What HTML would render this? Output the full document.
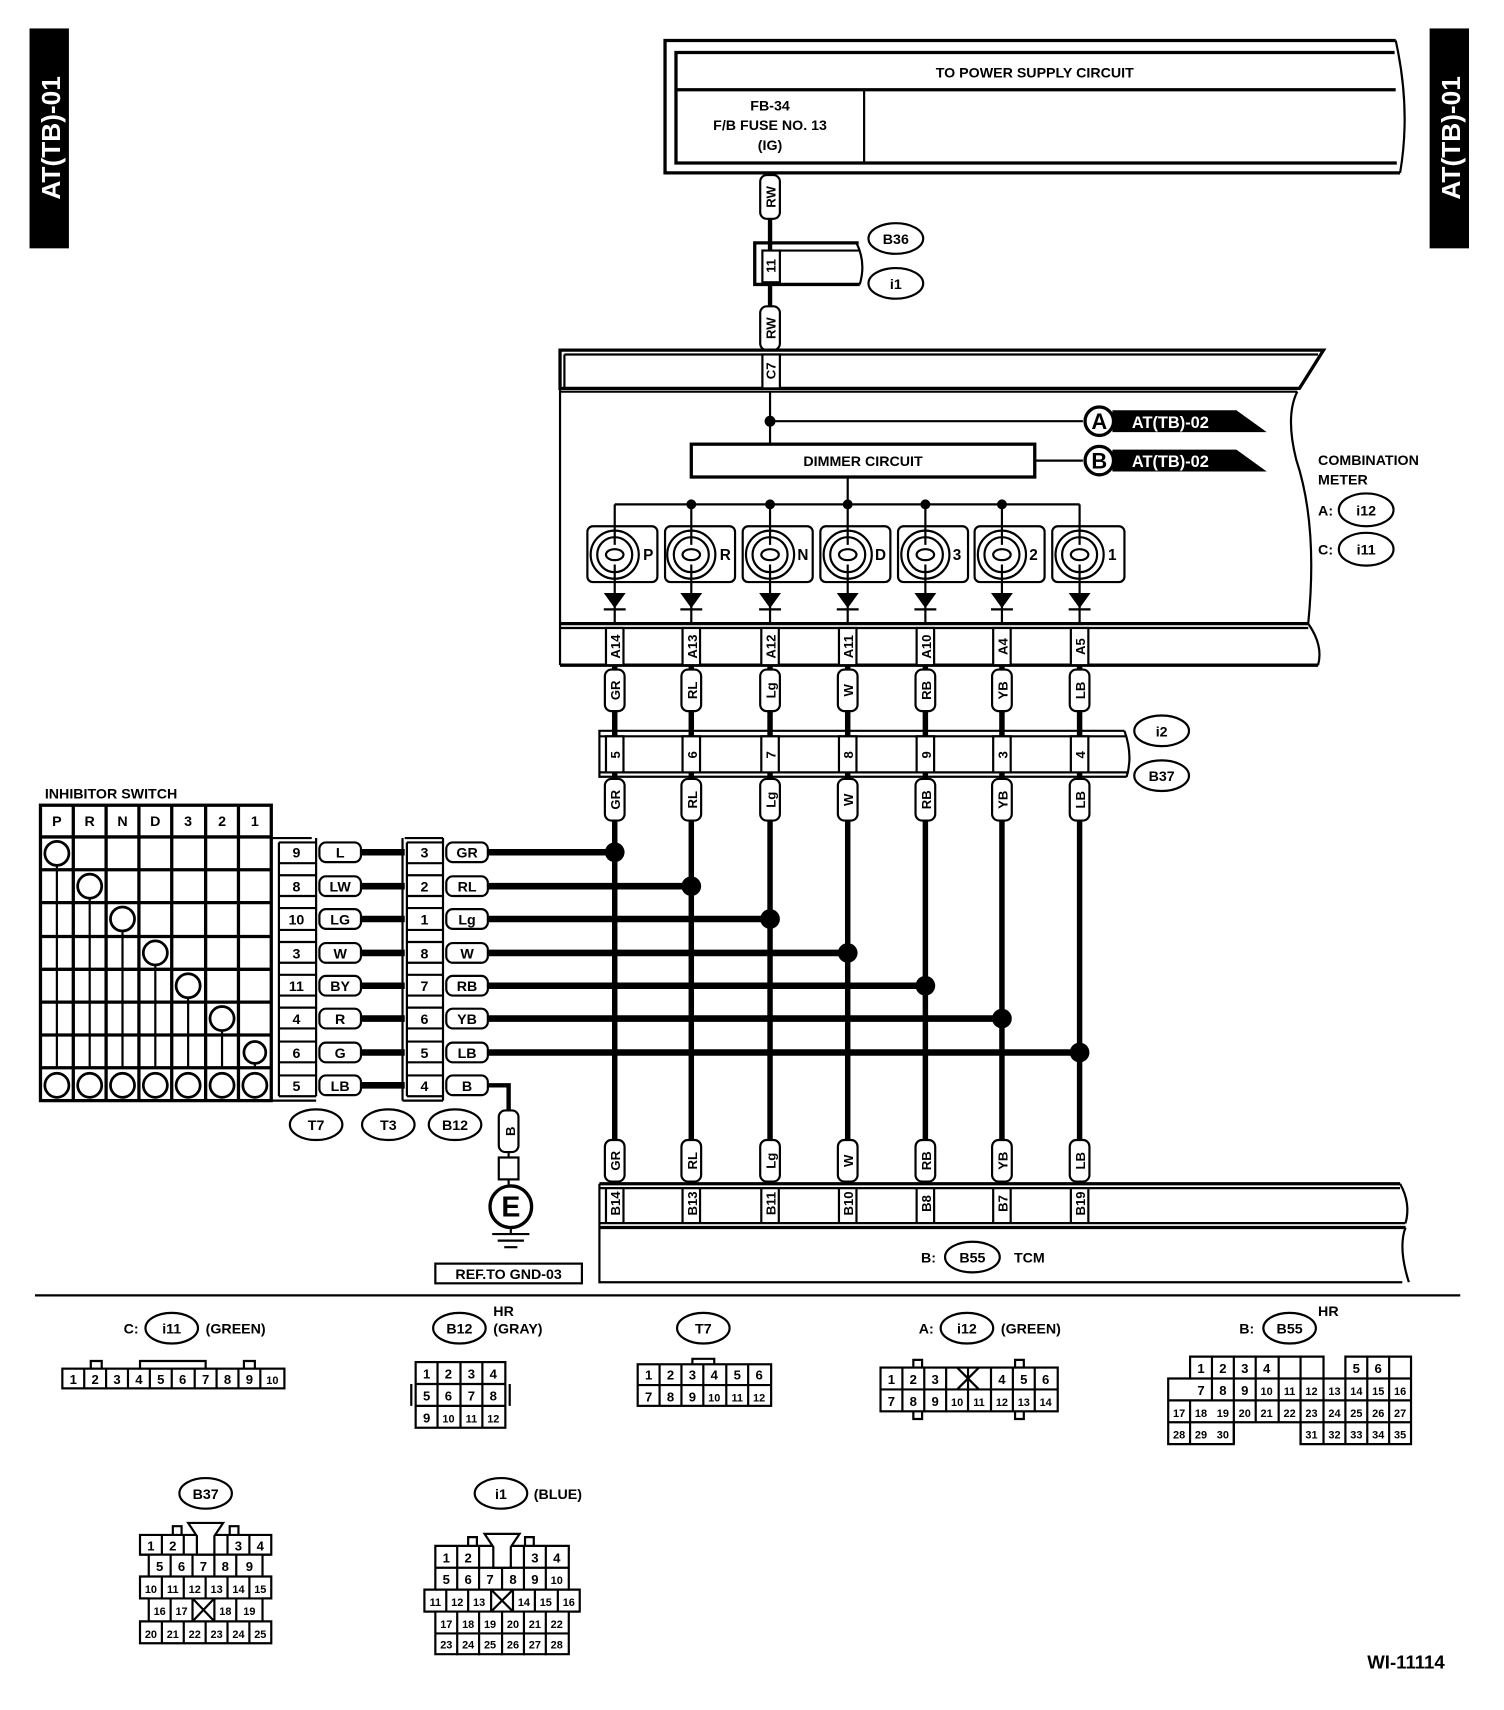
<!DOCTYPE html>
<html><head><meta charset="utf-8"><style>
html,body{margin:0;padding:0;background:#fff;}
svg{display:block}
text{font-family:"Liberation Sans",sans-serif;font-weight:bold;fill:#000}
</style></head><body>
<svg width="1504" height="1710" viewBox="0 0 1375 1563" preserveAspectRatio="none" xmlns="http://www.w3.org/2000/svg">
<g fill="none" stroke="#000" stroke-width="2">
<rect x="28" y="27" width="34" height="199" fill="#000"/>
<rect x="1308" y="27" width="34" height="199" fill="#000"/>
</g>
<text transform="translate(55,126) rotate(-90)" font-size="24" text-anchor="middle" style="fill:#fff">AT(TB)-01</text>
<text transform="translate(1335,126) rotate(-90)" font-size="24" text-anchor="middle" style="fill:#fff">AT(TB)-01</text>

<g fill="none" stroke="#000" stroke-width="2">
<path d="M1276 37 H608 V158 H1280" stroke-width="3"/>
<path d="M1276 37 Q1290 100 1280 158" />
<path d="M1275 48 H618 V149 H1277" stroke-width="3"/>
<line x1="618" y1="82" x2="1276" y2="82" stroke-width="3"/>
<line x1="790" y1="82" x2="790" y2="149"/>
<line x1="704" y1="158" x2="704" y2="320" stroke-width="4"/>
<rect x="695" y="160" width="18" height="40" rx="6" fill="#fff"/>
<rect x="695" y="280" width="18" height="40" rx="6" fill="#fff"/>
<path d="M785 222 H690 V260 H786" stroke-width="3"/>
<rect x="697" y="229" width="16" height="29" fill="#fff"/>
<path d="M785 229 H713"/>
<path d="M783 222 Q792 240 786 260"/>
<ellipse cx="819" cy="218" rx="25" ry="14" stroke-width="2"/>
<ellipse cx="819" cy="259" rx="25" ry="14" stroke-width="2"/>

<path d="M512 320 H1210 L1188 355 H512 Z" stroke-width="3"/>
<line x1="516" y1="324" x2="1205" y2="324"/>
<path d="M516 324 V354"/>
<line x1="512" y1="358" x2="1186" y2="358" stroke-width="2"/>
<path d="M512 320 V608"/>
<rect x="697" y="324" width="16" height="31" fill="#fff"/>
<path d="M1186 358 Q1175 380 1185 420 Q1205 480 1196 570"/>
<line x1="512" y1="570" x2="1196" y2="570" stroke-width="3"/>
<line x1="512" y1="574" x2="1196" y2="574"/>
<line x1="512" y1="608" x2="1205" y2="608" stroke-width="3"/>
<path d="M1196 570 Q1210 590 1205 608"/>
<line x1="704" y1="358" x2="704" y2="406"/>
<line x1="704" y1="385" x2="990" y2="385"/>
<circle cx="704" cy="385" r="4" fill="#000"/>
<rect x="632" y="406" width="314" height="30" stroke-width="3"/>
<line x1="946" y1="421" x2="990" y2="421"/>
<circle cx="1005" cy="385" r="13" fill="#fff" stroke-width="3"/>
<circle cx="1005" cy="421" r="13" fill="#fff" stroke-width="3"/>
<path d="M1018 376 H1130 L1155 394 H1018 Z" fill="#000"/>
<path d="M1018 412 H1130 L1155 430 H1018 Z" fill="#000"/>
<line x1="775" y1="436" x2="775" y2="461"/>
<line x1="562" y1="461" x2="987" y2="461"/>
</g>
<text x="946" y="71" font-size="13" text-anchor="middle" font-weight="normal">TO POWER SUPPLY CIRCUIT</text>
<text x="704" y="101" font-size="13" text-anchor="middle">FB-34</text>
<text x="704" y="119" font-size="13" text-anchor="middle">F/B FUSE NO. 13</text>
<text x="704" y="137" font-size="13" text-anchor="middle">(IG)</text>
<text transform="translate(709,180) rotate(-90)" font-size="12" text-anchor="middle">RW</text>
<text transform="translate(709,300) rotate(-90)" font-size="12" text-anchor="middle">RW</text>
<text transform="translate(709,243) rotate(-90)" font-size="12" text-anchor="middle">11</text>
<text x="819" y="223" font-size="13" text-anchor="middle">B36</text>
<text x="819" y="264" font-size="13" text-anchor="middle">i1</text>
<text transform="translate(709,339) rotate(-90)" font-size="12" text-anchor="middle">C7</text>
<text x="1005" y="392" font-size="20" text-anchor="middle">A</text>
<text x="1005" y="428" font-size="20" text-anchor="middle">B</text>
<text x="1070" y="391" font-size="15" text-anchor="middle" style="fill:#fff" font-weight="normal">AT(TB)-02</text>
<text x="1070" y="427" font-size="15" text-anchor="middle" style="fill:#fff" font-weight="normal">AT(TB)-02</text>
<text x="789" y="426" font-size="13" text-anchor="middle">DIMMER CIRCUIT</text>
<text x="1205" y="425" font-size="13">COMBINATION</text>
<text x="1205" y="443" font-size="13">METER</text>
<text x="1205" y="471" font-size="13">A:</text>
<text x="1205" y="507" font-size="13">C:</text>
<g fill="none" stroke="#000" stroke-width="2">
<ellipse cx="1249" cy="466" rx="25" ry="15"/>
<ellipse cx="1249" cy="502" rx="25" ry="15"/>
</g>
<text x="1249" y="471" font-size="13" text-anchor="middle">i12</text>
<text x="1249" y="507" font-size="13" text-anchor="middle">i11</text>

<g fill="none" stroke="#000" stroke-width="2">
<rect x="537" y="481" width="64" height="51" rx="5"/>
<rect x="608" y="481" width="64" height="51" rx="5"/>
<rect x="679" y="481" width="64" height="51" rx="5"/>
<rect x="750" y="481" width="64" height="51" rx="5"/>
<rect x="821" y="481" width="64" height="51" rx="5"/>
<rect x="891" y="481" width="64" height="51" rx="5"/>
<rect x="962" y="481" width="66" height="51" rx="5"/>
<circle cx="562" cy="507" r="22"/><circle cx="562" cy="507" r="16"/><ellipse cx="562" cy="507" rx="8" ry="5"/>
<circle cx="632" cy="507" r="22"/><circle cx="632" cy="507" r="16"/><ellipse cx="632" cy="507" rx="8" ry="5"/>
<circle cx="704" cy="507" r="22"/><circle cx="704" cy="507" r="16"/><ellipse cx="704" cy="507" rx="8" ry="5"/>
<circle cx="775" cy="507" r="22"/><circle cx="775" cy="507" r="16"/><ellipse cx="775" cy="507" rx="8" ry="5"/>
<circle cx="846" cy="507" r="22"/><circle cx="846" cy="507" r="16"/><ellipse cx="846" cy="507" rx="8" ry="5"/>
<circle cx="916" cy="507" r="22"/><circle cx="916" cy="507" r="16"/><ellipse cx="916" cy="507" rx="8" ry="5"/>
<circle cx="987" cy="507" r="22"/><circle cx="987" cy="507" r="16"/><ellipse cx="987" cy="507" rx="8" ry="5"/>
<path d="M562 461V498M562 516V570M632 461V498M632 516V570M704 461V498M704 516V570M775 461V498M775 516V570M846 461V498M846 516V570M916 461V498M916 516V570M987 461V498M987 516V570"/>
<path d="M552 557h20M622 557h20M694 557h20M765 557h20M836 557h20M906 557h20M977 557h20"/>
</g>
<g fill="#000">
<path d="M552 542h20l-10 14z"/><path d="M622 542h20l-10 14z"/><path d="M694 542h20l-10 14z"/><path d="M765 542h20l-10 14z"/><path d="M836 542h20l-10 14z"/><path d="M906 542h20l-10 14z"/><path d="M977 542h20l-10 14z"/>
<circle cx="632" cy="461" r="4.5"/><circle cx="704" cy="461" r="4.5"/><circle cx="775" cy="461" r="4.5"/><circle cx="846" cy="461" r="4.5"/><circle cx="916" cy="461" r="4.5"/>
</g>
<g font-size="14">
<text x="588" y="512">P</text><text x="658" y="512">R</text><text x="729" y="512">N</text><text x="800" y="512">D</text><text x="871" y="512">3</text><text x="941" y="512">2</text><text x="1013" y="512">1</text>
</g>

<g fill="none" stroke="#000" stroke-width="2">
<path d="M562 608V1082M632 608V1082M704 608V1082M775 608V1082M846 608V1082M916 608V1082M987 608V1082" stroke-width="5"/>
<path d="M1028 668H548V710H1030" stroke-width="2"/>
<line x1="548" y1="673" x2="1030" y2="673"/>
<line x1="548" y1="706" x2="1032" y2="706"/>
<path d="M1028 668Q1036 690 1030 710"/>
<ellipse cx="1062" cy="668" rx="25" ry="14"/>
<ellipse cx="1062" cy="709" rx="25" ry="14"/>
</g>
<g fill="#fff" stroke="#000" stroke-width="2">
<rect x="554" y="574" width="16" height="34"/><rect x="624" y="574" width="16" height="34"/><rect x="696" y="574" width="16" height="34"/><rect x="767" y="574" width="16" height="34"/><rect x="838" y="574" width="16" height="34"/><rect x="908" y="574" width="16" height="34"/><rect x="979" y="574" width="16" height="34"/>
<rect x="554" y="673" width="16" height="33"/><rect x="624" y="673" width="16" height="33"/><rect x="696" y="673" width="16" height="33"/><rect x="767" y="673" width="16" height="33"/><rect x="838" y="673" width="16" height="33"/><rect x="908" y="673" width="16" height="33"/><rect x="979" y="673" width="16" height="33"/>
<rect x="553" y="612" width="18" height="38" rx="6"/><rect x="623" y="612" width="18" height="38" rx="6"/><rect x="695" y="612" width="18" height="38" rx="6"/><rect x="766" y="612" width="18" height="38" rx="6"/><rect x="837" y="612" width="18" height="38" rx="6"/><rect x="907" y="612" width="18" height="38" rx="6"/><rect x="978" y="612" width="18" height="38" rx="6"/>
<rect x="553" y="712" width="18" height="38" rx="6"/><rect x="623" y="712" width="18" height="38" rx="6"/><rect x="695" y="712" width="18" height="38" rx="6"/><rect x="766" y="712" width="18" height="38" rx="6"/><rect x="837" y="712" width="18" height="38" rx="6"/><rect x="907" y="712" width="18" height="38" rx="6"/><rect x="978" y="712" width="18" height="38" rx="6"/>
<rect x="553" y="1042" width="18" height="38" rx="6"/><rect x="623" y="1042" width="18" height="38" rx="6"/><rect x="695" y="1042" width="18" height="38" rx="6"/><rect x="766" y="1042" width="18" height="38" rx="6"/><rect x="837" y="1042" width="18" height="38" rx="6"/><rect x="907" y="1042" width="18" height="38" rx="6"/><rect x="978" y="1042" width="18" height="38" rx="6"/>
</g>
<g font-size="12" text-anchor="middle">
<text transform="translate(567,591) rotate(-90)">A14</text><text transform="translate(637,591) rotate(-90)">A13</text><text transform="translate(709,591) rotate(-90)">A12</text><text transform="translate(780,591) rotate(-90)">A11</text><text transform="translate(851,591) rotate(-90)">A10</text><text transform="translate(921,591) rotate(-90)">A4</text><text transform="translate(992,591) rotate(-90)">A5</text>
<text transform="translate(567,631) rotate(-90)">GR</text><text transform="translate(637,631) rotate(-90)">RL</text><text transform="translate(709,631) rotate(-90)">Lg</text><text transform="translate(780,631) rotate(-90)">W</text><text transform="translate(851,631) rotate(-90)">RB</text><text transform="translate(921,631) rotate(-90)">YB</text><text transform="translate(992,631) rotate(-90)">LB</text>
<text transform="translate(567,690) rotate(-90)">5</text><text transform="translate(637,690) rotate(-90)">6</text><text transform="translate(709,690) rotate(-90)">7</text><text transform="translate(780,690) rotate(-90)">8</text><text transform="translate(851,690) rotate(-90)">9</text><text transform="translate(921,690) rotate(-90)">3</text><text transform="translate(992,690) rotate(-90)">4</text>
<text transform="translate(567,731) rotate(-90)">GR</text><text transform="translate(637,731) rotate(-90)">RL</text><text transform="translate(709,731) rotate(-90)">Lg</text><text transform="translate(780,731) rotate(-90)">W</text><text transform="translate(851,731) rotate(-90)">RB</text><text transform="translate(921,731) rotate(-90)">YB</text><text transform="translate(992,731) rotate(-90)">LB</text>
<text transform="translate(567,1061) rotate(-90)">GR</text><text transform="translate(637,1061) rotate(-90)">RL</text><text transform="translate(709,1061) rotate(-90)">Lg</text><text transform="translate(780,1061) rotate(-90)">W</text><text transform="translate(851,1061) rotate(-90)">RB</text><text transform="translate(921,1061) rotate(-90)">YB</text><text transform="translate(992,1061) rotate(-90)">LB</text>
<text transform="translate(567,1100) rotate(-90)">B14</text><text transform="translate(637,1100) rotate(-90)">B13</text><text transform="translate(709,1100) rotate(-90)">B11</text><text transform="translate(780,1100) rotate(-90)">B10</text><text transform="translate(851,1100) rotate(-90)">B8</text><text transform="translate(921,1100) rotate(-90)">B7</text><text transform="translate(992,1100) rotate(-90)">B19</text>
</g>
<text x="1062" y="673" font-size="13" text-anchor="middle">i2</text>
<text x="1062" y="714" font-size="13" text-anchor="middle">B37</text>

<g fill="none" stroke="#000" stroke-width="2">
<line x1="548" y1="1082" x2="1280" y2="1082" stroke-width="3"/>
<line x1="548" y1="1086" x2="1280" y2="1086"/>
<line x1="548" y1="1118" x2="1285" y2="1118"/>
<line x1="548" y1="1122" x2="1285" y2="1122" stroke-width="3"/>
<path d="M548 1082V1172H1282"/>
<path d="M1280 1082Q1290 1100 1285 1118"/>
<path d="M1285 1122Q1278 1140 1288 1172"/>
<path d="M554 1086V1118M570 1086V1118M624 1086V1118M640 1086V1118M696 1086V1118M712 1086V1118M767 1086V1118M783 1086V1118M838 1086V1118M854 1086V1118M908 1086V1118M924 1086V1118M979 1086V1118M995 1086V1118"/>
<ellipse cx="889" cy="1149" rx="25" ry="14"/>
</g>
<text x="842" y="1154" font-size="13">B:</text>
<text x="889" y="1154" font-size="13" text-anchor="middle">B55</text>
<text x="927" y="1154" font-size="13">TCM</text>

<g stroke="#000" stroke-width="6" fill="none">
<path d="M330 779H370M330 810H370M330 840H370M330 871H370M330 901H370M330 931H370M330 962H370M330 992H370"/>
<path d="M445 779H562M445 810H632M445 840H704M445 871H775M445 901H846M445 931H916M445 962H987"/>
<path d="M445 992H465V1015" stroke-width="4"/>
</g>
<g fill="#000">
<circle cx="562" cy="779" r="9"/><circle cx="632" cy="810" r="9"/><circle cx="704" cy="840" r="9"/><circle cx="775" cy="871" r="9"/><circle cx="846" cy="901" r="9"/><circle cx="916" cy="931" r="9"/><circle cx="987" cy="962" r="9"/>
</g>

<text x="41" y="730" font-size="13">INHIBITOR SWITCH</text>
<g fill="none" stroke="#000" stroke-width="2">
<rect x="37" y="736" width="211" height="270" stroke-width="3"/>
<path d="M37 765H248M37 795H248M37 825H248M37 856H248M37 886H248M37 916H248M37 946H248M37 976H248" stroke-width="3"/>
<path d="M67 736V1006M97 736V1006M127 736V1006M157 736V1006M188 736V1006M218 736V1006" stroke-width="3"/>
<path d="M52 792V977M82 822V977M112 852V977M142 883V977M172 913V977M203 943V977M233 973V977"/>
</g>
<g fill="#fff" stroke="#000" stroke-width="2.5">
<circle cx="52" cy="780" r="11"/><circle cx="82" cy="810" r="11"/><circle cx="112" cy="840" r="11"/><circle cx="142" cy="871" r="11"/><circle cx="172" cy="901" r="11"/><circle cx="203" cy="931" r="11"/><circle cx="233" cy="962" r="10"/>
<circle cx="52" cy="992" r="11"/><circle cx="82" cy="992" r="11"/><circle cx="112" cy="992" r="11"/><circle cx="142" cy="992" r="11"/><circle cx="172" cy="992" r="11"/><circle cx="203" cy="992" r="11"/><circle cx="233" cy="992" r="11"/>
</g>
<g font-size="13" text-anchor="middle">
<text x="52" y="755">P</text><text x="82" y="755">R</text><text x="112" y="755">N</text><text x="142" y="755">D</text><text x="172" y="755">3</text><text x="203" y="755">2</text><text x="233" y="755">1</text>
</g>
<g fill="none" stroke="#000" stroke-width="2">
<path d="M248 766H285M255 770V1002M289 766V1002M248 1006H289" stroke-width="2"/>
<path d="M255 770H289M255 789H289M255 800H289M255 819H289M255 830H289M255 850H289M255 861H289M255 880H289M255 891H289M255 910H289M255 921H289M255 940H289M255 952H289M255 971H289M255 983H289M255 1002H289"/>
<path d="M370 766H405M368 766V1006M372 770V1002M405 766V1006M368 1006H405"/>
<path d="M372 770H405M372 789H405M372 800H405M372 819H405M372 830H405M372 850H405M372 861H405M372 880H405M372 891H405M372 910H405M372 921H405M372 940H405M372 952H405M372 971H405M372 983H405M372 1002H405"/>
</g>
<g fill="#fff" stroke="#000" stroke-width="2">
<rect x="292" y="770" width="38" height="18" rx="6"/><rect x="292" y="801" width="38" height="18" rx="6"/><rect x="292" y="831" width="38" height="18" rx="6"/><rect x="292" y="862" width="38" height="18" rx="6"/><rect x="292" y="892" width="38" height="18" rx="6"/><rect x="292" y="922" width="38" height="18" rx="6"/><rect x="292" y="953" width="38" height="18" rx="6"/><rect x="292" y="983" width="38" height="18" rx="6"/>
<rect x="408" y="770" width="38" height="18" rx="6"/><rect x="408" y="801" width="38" height="18" rx="6"/><rect x="408" y="831" width="38" height="18" rx="6"/><rect x="408" y="862" width="38" height="18" rx="6"/><rect x="408" y="892" width="38" height="18" rx="6"/><rect x="408" y="922" width="38" height="18" rx="6"/><rect x="408" y="953" width="38" height="18" rx="6"/><rect x="408" y="983" width="38" height="18" rx="6"/>
<rect x="456" y="1015" width="18" height="38" rx="6"/>
<rect x="456" y="1058" width="18" height="20"/>
<circle cx="467" cy="1103" r="19" stroke-width="3"/>
<ellipse cx="289" cy="1028" rx="24" ry="14"/><ellipse cx="355" cy="1028" rx="24" ry="14"/><ellipse cx="416" cy="1028" rx="24" ry="14"/>
</g>
<g stroke="#000" stroke-width="2"><path d="M465 1053V1058M465 1078V1084M467 1122V1128M450 1128H484M455 1134H479M461 1140H473"/></g>
<g font-size="13" text-anchor="middle">
<text x="271" y="784">9</text><text x="271" y="815">8</text><text x="271" y="845">10</text><text x="271" y="876">3</text><text x="271" y="906">11</text><text x="271" y="936">4</text><text x="271" y="967">6</text><text x="271" y="997">5</text>
<text x="311" y="784">L</text><text x="311" y="815">LW</text><text x="311" y="845">LG</text><text x="311" y="876">W</text><text x="311" y="906">BY</text><text x="311" y="936">R</text><text x="311" y="967">G</text><text x="311" y="997">LB</text>
<text x="388" y="784">3</text><text x="388" y="815">2</text><text x="388" y="845">1</text><text x="388" y="876">8</text><text x="388" y="906">7</text><text x="388" y="936">6</text><text x="388" y="967">5</text><text x="388" y="997">4</text>
<text x="427" y="784">GR</text><text x="427" y="815">RL</text><text x="427" y="845">Lg</text><text x="427" y="876">W</text><text x="427" y="906">RB</text><text x="427" y="936">YB</text><text x="427" y="967">LB</text><text x="427" y="997">B</text>
<text x="289" y="1033">T7</text><text x="355" y="1033">T3</text><text x="416" y="1033">B12</text>
</g>
<text transform="translate(471,1034) rotate(-90)" font-size="12" text-anchor="middle">B</text>
<text x="467" y="1112" font-size="26" text-anchor="middle">E</text>
<rect x="398" y="1155" width="134" height="18" fill="none" stroke="#000" stroke-width="2"/>
<text x="465" y="1169" font-size="13" text-anchor="middle">REF.TO GND-03</text>

<line x1="32" y1="1184" x2="1335" y2="1184" stroke="#000" stroke-width="2"/>

<g fill="none" stroke="#000" stroke-width="2">
<ellipse cx="157" cy="1214" rx="24" ry="14"/><ellipse cx="420" cy="1214" rx="24" ry="14"/><ellipse cx="643" cy="1214" rx="24" ry="14"/><ellipse cx="884" cy="1214" rx="24" ry="14"/><ellipse cx="1179" cy="1214" rx="24" ry="14"/><ellipse cx="188" cy="1365" rx="24" ry="14"/><ellipse cx="458" cy="1365" rx="24" ry="14"/>
<rect x="57" y="1251" width="203" height="18"/>
<path d="M77 1251v18M97 1251v18M117 1251v18M137 1251v18M157 1251v18M178 1251v18M198 1251v18M218 1251v18M238 1251v18"/>
<path d="M83 1251v-7h10v7M128 1251v-7h60v7M223 1251v-7h10v7"/>
<rect x="380" y="1245" width="82" height="60"/>
<path d="M380 1265h82M380 1285h82M400 1245v60M421 1245v60M441 1245v60M376 1265v20M466 1265v20"/>
<rect x="583" y="1247" width="122" height="38"/>
<path d="M583 1266h122M603 1247v38M623 1247v38M643 1247v38M664 1247v38M684 1247v38M633 1247v-5h20v5"/>
<rect x="805" y="1250" width="162" height="40"/>
<path d="M805 1270h162M825 1250v40M845 1250v40M865 1250v40M885 1250v40M906 1250v40M926 1250v40M946 1250v40M875 1250l20 20M895 1250l-20 20M835 1250v-7h8v7M835 1290v7h8v-7M928 1250v-7h8v7M928 1290v7h8v-7"/>
<path d="M1088 1240H1210V1260H1230V1240H1290V1320H1189V1300H1128V1320H1068V1260H1088Z"/>
<path d="M1068 1280h222M1068 1300h60M1189 1300h101M1088 1260h122M1230 1260h60"/>
<path d="M1108 1240v40M1128 1240v80M1148 1240v60M1169 1240v60M1189 1240v80M1210 1260v60M1230 1260v60M1250 1240v80M1270 1240v80M1088 1280v40"/>
<path d="M128 1403H248V1421H240V1441H248V1461H240V1482H248V1502H128V1482H136V1461H128V1441H136V1421H128Z"/>
<path d="M128 1421h120M136 1441h104M128 1461h120M136 1482h104"/>
<path d="M148 1403v18M168 1403v18M208 1403v18M228 1403v18M156 1421v20M176 1421v20M196 1421v20M216 1421v20M148 1441v20M168 1441v20M188 1441v20M208 1441v20M228 1441v20M156 1461v21M176 1461v21M196 1461v21M216 1461v21M148 1482v20M168 1482v20M188 1482v20M208 1482v20M228 1482v20"/>
<path d="M172 1392h32l-8 12v17h-16v-17z" fill="#fff"/>
<path d="M176 1461l20 21M196 1461l-20 21"/>
<path d="M158 1403v-8h8v8M210 1403v-8h8v8"/>
<path d="M398 1413H520V1433H520V1453H530V1473H520V1493H520V1512H398V1473H388V1453H398Z"/>
<path d="M398 1433h122M398 1453h122M388 1473h142M398 1493h122"/>
<path d="M418 1413v20M438 1413v20M479 1413v20M499 1413v20M418 1433v20M438 1433v20M459 1433v20M479 1433v20M499 1433v20M408 1453v20M428 1453v20M449 1453v20M469 1453v20M489 1453v20M510 1453v20M418 1473v40M438 1473v40M459 1473v40M479 1473v40M499 1473v40"/>
<path d="M443 1402h32l-8 12v19h-16v-19z" fill="#fff"/>
<path d="M449 1453l20 20M469 1453l-20 20"/>
<path d="M428 1413v-8h8v8M480 1413v-8h8v8"/>
</g>
<g font-size="13">
<text x="113" y="1219">C:</text><text x="157" y="1219" text-anchor="middle">i11</text><text x="188" y="1219">(GREEN)</text>
<text x="420" y="1219" text-anchor="middle">B12</text><text x="451" y="1203">HR</text><text x="451" y="1219">(GRAY)</text>
<text x="643" y="1219" text-anchor="middle">T7</text>
<text x="840" y="1219">A:</text><text x="884" y="1219" text-anchor="middle">i12</text><text x="915" y="1219">(GREEN)</text>
<text x="1133" y="1219">B:</text><text x="1179" y="1219" text-anchor="middle">B55</text><text x="1205" y="1203">HR</text>
<text x="188" y="1370" text-anchor="middle">B37</text>
<text x="458" y="1370" text-anchor="middle">i1</text><text x="488" y="1370">(BLUE)</text>
<text x="1250" y="1525" font-size="17" font-weight="normal">WI-11114</text>
</g>
<g font-size="12" text-anchor="middle" font-weight="normal">
<text x="67" y="1265">1</text><text x="87" y="1265">2</text><text x="107" y="1265">3</text><text x="127" y="1265">4</text><text x="147" y="1265">5</text><text x="167" y="1265">6</text><text x="188" y="1265">7</text><text x="208" y="1265">8</text><text x="228" y="1265">9</text><text x="249" y="1265" font-size="10">10</text>
<text x="390" y="1260">1</text><text x="410" y="1260">2</text><text x="431" y="1260">3</text><text x="451" y="1260">4</text>
<text x="390" y="1280">5</text><text x="410" y="1280">6</text><text x="431" y="1280">7</text><text x="451" y="1280">8</text>
<text x="390" y="1300">9</text><text x="410" y="1300" font-size="10">10</text><text x="431" y="1300" font-size="10">11</text><text x="451" y="1300" font-size="10">12</text>
<text x="593" y="1261">1</text><text x="613" y="1261">2</text><text x="633" y="1261">3</text><text x="653" y="1261">4</text><text x="674" y="1261">5</text><text x="694" y="1261">6</text>
<text x="593" y="1281">7</text><text x="613" y="1281">8</text><text x="633" y="1281">9</text><text x="653" y="1281" font-size="10">10</text><text x="674" y="1281" font-size="10">11</text><text x="694" y="1281" font-size="10">12</text>
<text x="815" y="1265">1</text><text x="835" y="1265">2</text><text x="855" y="1265">3</text><text x="916" y="1265">4</text><text x="936" y="1265">5</text><text x="956" y="1265">6</text>
<text x="815" y="1285">7</text><text x="835" y="1285">8</text><text x="855" y="1285">9</text><text x="875" y="1285" font-size="10">10</text><text x="895" y="1285" font-size="10">11</text><text x="916" y="1285" font-size="10">12</text><text x="936" y="1285" font-size="10">13</text><text x="956" y="1285" font-size="10">14</text>
<text x="1098" y="1255">1</text><text x="1118" y="1255">2</text><text x="1138" y="1255">3</text><text x="1158" y="1255">4</text><text x="1240" y="1255">5</text><text x="1260" y="1255">6</text>
<text x="1098" y="1275">7</text><text x="1118" y="1275">8</text><text x="1138" y="1275">9</text><text x="1158" y="1275" font-size="10">10</text><text x="1179" y="1275" font-size="10">11</text><text x="1199" y="1275" font-size="10">12</text><text x="1220" y="1275" font-size="10">13</text><text x="1240" y="1275" font-size="10">14</text><text x="1260" y="1275" font-size="10">15</text><text x="1280" y="1275" font-size="10">16</text>
<text x="1078" y="1295" font-size="10">17</text><text x="1098" y="1295" font-size="10">18</text><text x="1118" y="1295" font-size="10">19</text><text x="1138" y="1295" font-size="10">20</text><text x="1158" y="1295" font-size="10">21</text><text x="1179" y="1295" font-size="10">22</text><text x="1199" y="1295" font-size="10">23</text><text x="1220" y="1295" font-size="10">24</text><text x="1240" y="1295" font-size="10">25</text><text x="1260" y="1295" font-size="10">26</text><text x="1280" y="1295" font-size="10">27</text>
<text x="1078" y="1315" font-size="10">28</text><text x="1098" y="1315" font-size="10">29</text><text x="1118" y="1315" font-size="10">30</text><text x="1199" y="1315" font-size="10">31</text><text x="1220" y="1315" font-size="10">32</text><text x="1240" y="1315" font-size="10">33</text><text x="1260" y="1315" font-size="10">34</text><text x="1280" y="1315" font-size="10">35</text>
<text x="138" y="1417">1</text><text x="158" y="1417">2</text><text x="218" y="1417">3</text><text x="238" y="1417">4</text>
<text x="146" y="1436">5</text><text x="166" y="1436">6</text><text x="186" y="1436">7</text><text x="206" y="1436">8</text><text x="228" y="1436">9</text>
<text x="138" y="1456" font-size="10">10</text><text x="158" y="1456" font-size="10">11</text><text x="178" y="1456" font-size="10">12</text><text x="198" y="1456" font-size="10">13</text><text x="218" y="1456" font-size="10">14</text><text x="238" y="1456" font-size="10">15</text>
<text x="146" y="1476" font-size="10">16</text><text x="166" y="1476" font-size="10">17</text><text x="206" y="1476" font-size="10">18</text><text x="228" y="1476" font-size="10">19</text>
<text x="138" y="1497" font-size="10">20</text><text x="158" y="1497" font-size="10">21</text><text x="178" y="1497" font-size="10">22</text><text x="198" y="1497" font-size="10">23</text><text x="218" y="1497" font-size="10">24</text><text x="238" y="1497" font-size="10">25</text>
<text x="408" y="1428">1</text><text x="428" y="1428">2</text><text x="489" y="1428">3</text><text x="509" y="1428">4</text>
<text x="408" y="1448">5</text><text x="428" y="1448">6</text><text x="448" y="1448">7</text><text x="469" y="1448">8</text><text x="489" y="1448">9</text><text x="509" y="1448" font-size="10">10</text>
<text x="398" y="1468" font-size="10">11</text><text x="418" y="1468" font-size="10">12</text><text x="438" y="1468" font-size="10">13</text><text x="479" y="1468" font-size="10">14</text><text x="499" y="1468" font-size="10">15</text><text x="520" y="1468" font-size="10">16</text>
<text x="408" y="1488" font-size="10">17</text><text x="428" y="1488" font-size="10">18</text><text x="448" y="1488" font-size="10">19</text><text x="469" y="1488" font-size="10">20</text><text x="489" y="1488" font-size="10">21</text><text x="509" y="1488" font-size="10">22</text>
<text x="408" y="1507" font-size="10">23</text><text x="428" y="1507" font-size="10">24</text><text x="448" y="1507" font-size="10">25</text><text x="469" y="1507" font-size="10">26</text><text x="489" y="1507" font-size="10">27</text><text x="509" y="1507" font-size="10">28</text>
</g>
</svg>
</body></html>
